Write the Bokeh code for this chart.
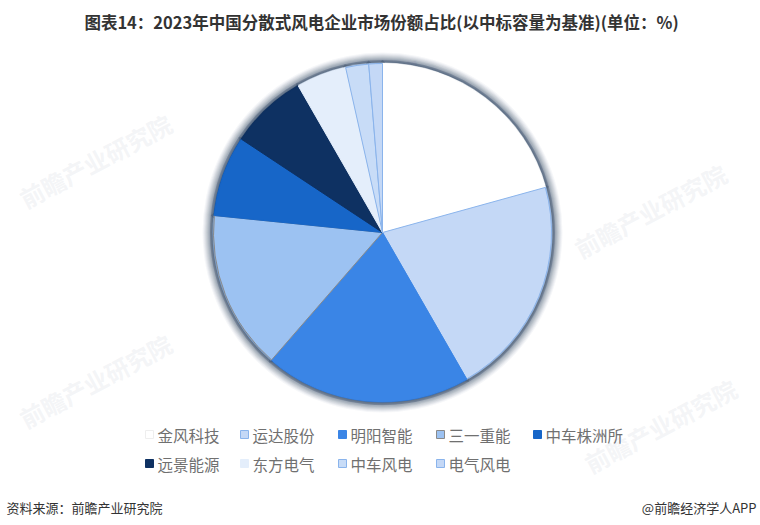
import math
from bokeh.plotting import figure
from bokeh.models import Range1d, ColumnDataSource
from bokeh.core.properties import value
from bokeh.embed import file_html
from bokeh.resources import INLINE

# ---- data ----
companies = ["金风科技", "运达股份", "明阳智能", "三一重能", "中车株洲所",
             "远景能源", "东方电气", "中车风电", "电气风电"]
shares = [20.7, 21.0, 19.7, 15.2, 7.7, 7.4, 4.8, 2.2, 1.3]
colors = ["#ffffff", "#c4d8f6", "#3a85e6", "#9cc2f2", "#1766c8",
          "#0e3162", "#e4eefb", "#c8dcf7", "#c4d8f6"]
edge_colors = ["#ffffff", "#8ab4ec", "#3a85e6", "#8a8a8a", "#1766c8",
               "#0e3162", "#e4eefb", "#8ab4ec", "#8ab4ec"]
title = "图表14：2023年中国分散式风电企业市场份额占比(以中标容量为基准)(单位：%)"
source_note = "资料来源：前瞻产业研究院"
brand_note = "@前瞻经济学人APP"

W, H = 760, 525
FONT = value("Noto Sans CJK SC")


def fx(px):
    return px


def fy(py):
    return H - py


p = figure(width=W, height=H, output_backend="svg", toolbar_location=None,
           x_range=Range1d(0, W), y_range=Range1d(0, H), min_border=0)
p.axis.visible = False
p.grid.visible = False
p.outline_line_color = None
p.background_fill_color = "#ffffff"
p.border_fill_color = "#ffffff"

# watermarks
wm_x = [fx(95), fx(650), fx(450), fx(95), fx(660), fx(345)]
wm_y = [fy(160), fy(210), fy(330), fy(380), fy(425), fy(105)]
p.text(x=wm_x, y=wm_y, text=["前瞻产业研究院"] * len(wm_x), angle=math.radians(28),
       text_font=FONT, text_font_size="24px", text_font_style="bold",
       text_color="#d8dde3", text_alpha=0.3, text_align="center", text_baseline="middle")

# title
p.text(x=[fx(381)], y=[fy(21)], text=[title], text_font=FONT, text_font_size="16.5px",
       text_font_style="bold", text_color="#333333", text_align="center",
       text_baseline="middle")

# pie
cx, cy, R = fx(382), fy(232), 170
# soft shadow around the pie
for i, a in zip(range(10, 0, -1), [0.04, 0.05, 0.06, 0.07, 0.08, 0.09, 0.1, 0.11, 0.13, 0.15]):
    p.circle(x=[cx], y=[cy], radius=R + i, fill_color="#203a5c", fill_alpha=a,
             line_color=None)

total = sum(shares)
starts, ends = [], []
cum = 0.0
for v in shares:
    starts.append(math.pi / 2 - cum / total * 2 * math.pi)
    cum += v
    ends.append(math.pi / 2 - cum / total * 2 * math.pi)

src = ColumnDataSource(dict(start=starts, end=ends, color=colors, edge=edge_colors))
# inner shading along the edges of each slice
p.wedge(x=cx, y=cy, radius=R, start_angle="start", end_angle="end", direction="clock",
        fill_color="color", line_color="#1f3658", line_alpha=0.25, line_width=5,
        source=src)
p.wedge(x=cx, y=cy, radius=R - 1, start_angle="start", end_angle="end", direction="clock",
        fill_color="color", line_color="edge", line_width=1, source=src)

# legend
row1 = [145, 240, 338, 436, 533]
row2 = [145, 240, 338, 436]
lx = [fx(v) for v in row1 + row2]
ly = [fy(434)] * 5 + [fy(463)] * 4
leg_edges = ["#eeeeee", "#8ab4ec", "#3a85e6", "#8a8a8a", "#1766c8",
             "#0e3162", "#e4eefb", "#8ab4ec", "#8ab4ec"]
p.rect(x=[v + 4 for v in lx], y=ly, width=8, height=8, fill_color=colors,
       line_color=leg_edges, line_width=1)
p.text(x=[v + 12 for v in lx], y=ly, text=companies, text_font=FONT,
       text_font_size="15.5px", text_color="#707070", text_baseline="middle",
       text_align="left")

# footer
p.text(x=[fx(6)], y=[fy(507)], text=[source_note], text_font=FONT, text_font_size="13px",
       text_color="#333333", text_baseline="middle", text_align="left")
p.text(x=[fx(756)], y=[fy(507)], text=[brand_note], text_font=FONT, text_font_size="13px",
       text_color="#333333", text_baseline="middle", text_align="right")

open("out.html", "w").write(file_html(p, INLINE))
